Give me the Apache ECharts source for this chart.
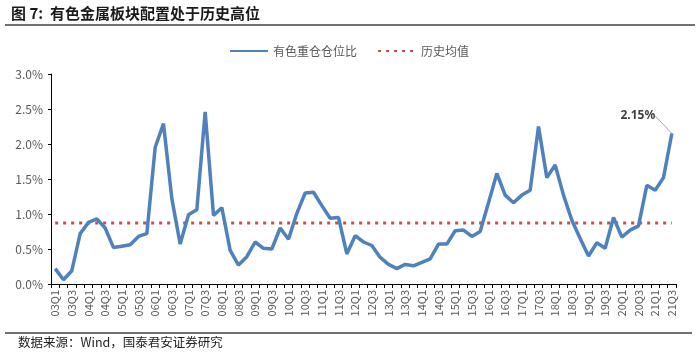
<!DOCTYPE html>
<html>
<head>
<meta charset="utf-8">
<script src="https://cdn.jsdelivr.net/npm/echarts@6/dist/echarts.min.js"></script>
<style>
  html, body { margin: 0; padding: 0; background: #fff; }
  #chart { width: 700px; height: 352px; }
</style>
</head>
<body>
<div id="chart"></div>
<script>
// 季度
var quarters = [
  '03Q1', '03Q2', '03Q3', '03Q4', '04Q1', '04Q2', '04Q3', '04Q4',
  '05Q1', '05Q2', '05Q3', '05Q4', '06Q1', '06Q2', '06Q3', '06Q4',
  '07Q1', '07Q2', '07Q3', '07Q4', '08Q1', '08Q2', '08Q3', '08Q4',
  '09Q1', '09Q2', '09Q3', '09Q4', '10Q1', '10Q2', '10Q3', '10Q4',
  '11Q1', '11Q2', '11Q3', '11Q4', '12Q1', '12Q2', '12Q3', '12Q4',
  '13Q1', '13Q2', '13Q3', '13Q4', '14Q1', '14Q2', '14Q3', '14Q4',
  '15Q1', '15Q2', '15Q3', '15Q4', '16Q1', '16Q2', '16Q3', '16Q4',
  '17Q1', '17Q2', '17Q3', '17Q4', '18Q1', '18Q2', '18Q3', '18Q4',
  '19Q1', '19Q2', '19Q3', '19Q4', '20Q1', '20Q2', '20Q3', '20Q4',
  '21Q1', '21Q2', '21Q3'
]
// 有色重仓仓位比 (%)
var holdingRatio = [
  0.22, 0.06, 0.19, 0.72, 0.88, 0.93, 0.80, 0.52,
  0.54, 0.56, 0.68, 0.72, 1.95, 2.29, 1.22, 0.57,
  0.99, 1.06, 2.46, 0.98, 1.09, 0.48, 0.27, 0.39,
  0.60, 0.51, 0.50, 0.80, 0.64, 1.01, 1.30, 1.31,
  1.12, 0.94, 0.95, 0.43, 0.69, 0.60, 0.55, 0.38,
  0.28, 0.22, 0.28, 0.26, 0.31, 0.36, 0.57, 0.57,
  0.76, 0.77, 0.68, 0.75, 1.16, 1.58, 1.27, 1.16,
  1.27, 1.34, 2.25, 1.52, 1.70, 1.27, 0.91, 0.65,
  0.40, 0.59, 0.51, 0.95, 0.67, 0.77, 0.83, 1.41,
  1.34, 1.52, 2.15
]
// 历史均值 (%)
var historyAvg = 0.87
var yTicks = [0, 0.5, 1.0, 1.5, 2.0, 2.5, 3.0]

var lastIdx = holdingRatio.length - 1
var lineData = holdingRatio.map(function(v, i) {
  if (i !== lastIdx) return v
  return {
    value: v,
    label: {
      show: true,
      position: 'top',
      formatter: function(p) { return p.value.toFixed(2) + '%' },
      color: '#404040',
      fontWeight: 'bold',
      fontSize: 12,
      fontFamily: 'Noto Sans'
    },
    labelLine: {
      show: true,
      lineStyle: { color: '#a6a6a6', width: 1 }
    }
  }
})
var avgData = quarters.map(function() { return historyAvg })

var chart = echarts.init(document.getElementById('chart'))
chart.setOption({
  animation: false,
  backgroundColor: '#fff',
  textStyle: { fontFamily: 'Noto Sans CJK SC' },
  title: {
    text: '图 7:  有色金属板块配置处于历史高位',
    left: 6,
    top: 1,
    textStyle: {
      fontSize: 15,
      fontWeight: 'bold',
      color: '#1a1a1a',
      fontFamily: 'Noto Sans CJK SC'
    }
  },
  graphic: [
    {
      type: 'line',
      shape: { x1: 5, y1: 25, x2: 695, y2: 25 },
      style: { stroke: '#404040', lineWidth: 1.5 }
    },
    {
      type: 'line',
      shape: { x1: 5, y1: 333, x2: 692, y2: 333 },
      style: { stroke: '#404040', lineWidth: 1.5 }
    },
    {
      type: 'text',
      left: 18,
      top: 336,
      style: {
        text: '数据来源：Wind，国泰君安证券研究',
        fill: '#222',
        font: '12.5px "Noto Sans CJK SC"'
      }
    }
  ],
  legend: {
    top: 40,
    left: 224,
    itemWidth: 38,
    itemHeight: 10,
    itemGap: 20,
    itemStyle: { opacity: 0 },
    textStyle: { color: '#595959', fontSize: 12 },
    data: ['有色重仓仓位比', '历史均值']
  },
  grid: {
    left: 51,
    right: 24,
    top: 74,
    bottom: 68
  },
  xAxis: {
    type: 'category',
    data: quarters,
    boundaryGap: true,
    axisLine: { lineStyle: { color: '#000', width: 1 } },
    axisTick: {
      show: true,
      interval: 0,
      length: 4,
      lineStyle: { color: '#000' }
    },
    axisLabel: {
      interval: 1,
      rotate: 90,
      color: '#595959',
      fontSize: 11,
      margin: 6
    }
  },
  yAxis: {
    type: 'value',
    min: yTicks[0],
    max: yTicks[yTicks.length - 1],
    interval: 0.5,
    splitLine: { show: false },
    axisLine: { show: true, lineStyle: { color: '#000', width: 1 } },
    axisTick: { show: true, length: 3, lineStyle: { color: '#000' } },
    axisLabel: {
      color: '#595959',
      fontSize: 12,
      margin: 8,
      formatter: function(v) { return v.toFixed(1) + '%' }
    }
  },
  series: [
    {
      name: '有色重仓仓位比',
      type: 'line',
      data: lineData,
      symbol: 'circle',
      showSymbol: true,
      showAllSymbol: true,
      symbolSize: function(v, p) { return p.dataIndex === lastIdx ? 1 : 0 },
      lineStyle: { color: '#4f81bd', width: 3.5 },
      itemStyle: { color: '#4f81bd' },
      z: 3,
      labelLayout: function(params) {
        if (params.dataIndex === lastIdx) {
          return { dx: -34, dy: -6 }
        }
      }
    },
    {
      name: '历史均值',
      type: 'line',
      data: avgData,
      symbol: 'none',
      lineStyle: { color: '#c0504d', width: 3, type: [3, 5] },
      itemStyle: { color: '#c0504d' },
      z: 2
    }
  ]
})
</script>
</body>
</html>
